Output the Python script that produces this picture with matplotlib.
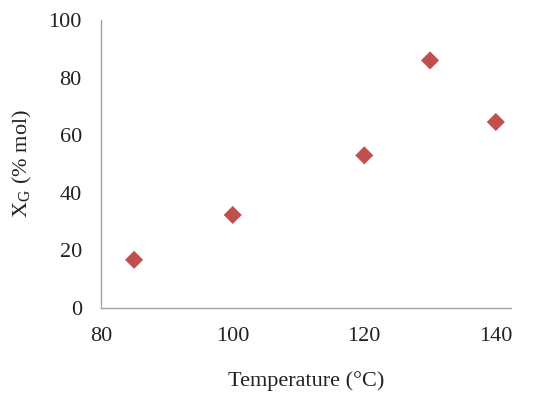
import matplotlib
matplotlib.use("Agg")
import matplotlib.pyplot as plt

# temperature (C) vs glycerol conversion X_G (% mol)
temperature = [85, 100, 120, 130, 140]
conversion = [16.7, 32.3, 53.0, 86.0, 64.6]

plt.rcParams["font.family"] = ["Liberation Serif", "DejaVu Serif"]
plt.rcParams["mathtext.fontset"] = "stix"

fig = plt.figure(figsize=(5.5, 4.03), dpi=100)
ax = fig.add_axes([0.184, 0.236, 0.745, 0.714])

ax.scatter(temperature, conversion, marker="D", s=85, color="#C0504D",
           edgecolors="none", zorder=3)

ax.set_xlim(80, 142.3)
ax.set_ylim(0, 100)
ax.set_xticks([80, 100, 120, 140])
ax.set_yticks([0, 20, 40, 60, 80, 100])
ax.tick_params(length=0, labelsize=16, colors="#222222")
ax.tick_params(axis="y", pad=14)
ax.tick_params(axis="x", pad=14)

for side in ("top", "right"):
    ax.spines[side].set_visible(False)
for side in ("left", "bottom"):
    ax.spines[side].set_color("#A6A6A6")
    ax.spines[side].set_linewidth(1.0)

ax.set_xlabel("Temperature (°C)", fontsize=16, color="#222222", labelpad=18)
ax.set_ylabel(r"X$_\mathregular{G}$ (% mol)", fontsize=16, color="#222222", labelpad=10)

fig.savefig("out.png", dpi=100)
